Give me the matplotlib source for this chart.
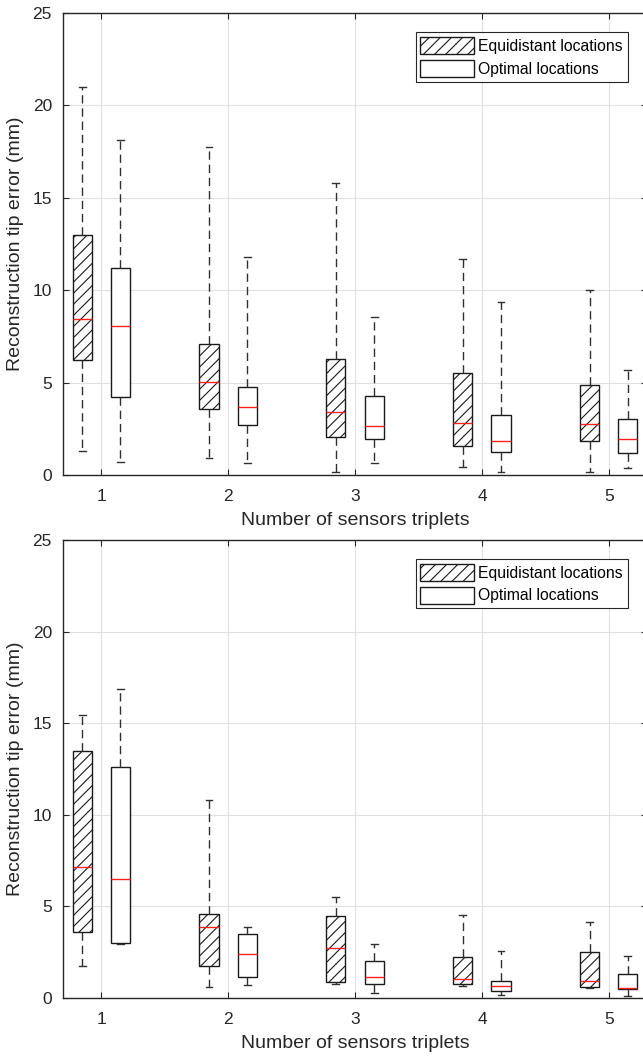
import matplotlib
matplotlib.use("Agg")
import matplotlib.pyplot as plt
from matplotlib.patches import Patch

plt.rcParams['font.family'] = ['Liberation Sans', 'DejaVu Sans']
plt.rcParams['hatch.linewidth'] = 0.8

groups = [1, 2, 3, 4, 5]
legend_labels = ["Equidistant locations", "Optimal locations"]
xlabel = "Number of sensors triplets"
ylabel = "Reconstruction tip error (mm)"

# ---- Top panel ----
top_equi_whislo = [1.29, 0.94, 0.18, 0.42, 0.17]
top_equi_q1     = [6.23, 3.58, 2.08, 1.57, 1.83]
top_equi_med    = [8.43, 5.05, 3.43, 2.84, 2.77]
top_equi_q3     = [13.0, 7.09, 6.27, 5.51, 4.88]
top_equi_whishi = [21.0, 17.77, 15.82, 11.68, 10.02]

top_opt_whislo = [0.69, 0.67, 0.64, 0.15, 0.38]
top_opt_q1     = [4.24, 2.73, 1.97, 1.25, 1.18]
top_opt_med    = [8.07, 3.70, 2.67, 1.85, 1.95]
top_opt_q3     = [11.19, 4.75, 4.30, 3.27, 3.04]
top_opt_whishi = [18.13, 11.82, 8.57, 9.38, 5.69]

# ---- Bottom panel ----
bot_equi_whislo = [1.77, 0.58, 0.75, 0.65, 0.56]
bot_equi_q1     = [3.58, 1.77, 0.88, 0.76, 0.58]
bot_equi_med    = [7.13, 3.86, 2.74, 1.01, 0.93]
bot_equi_q3     = [13.47, 4.57, 4.48, 2.22, 2.52]
bot_equi_whishi = [15.43, 10.82, 5.50, 4.55, 4.14]

bot_opt_whislo = [2.93, 0.69, 0.28, 0.19, 0.13]
bot_opt_q1     = [2.99, 1.16, 0.75, 0.37, 0.50]
bot_opt_med    = [6.47, 2.41, 1.16, 0.63, 0.56]
bot_opt_q3     = [12.63, 3.49, 2.03, 0.93, 1.32]
bot_opt_whishi = [16.87, 3.86, 2.93, 2.59, 2.28]


def make_stats(lo, q1, med, q3, hi):
    return [dict(whislo=a, q1=b, med=c, q3=d, whishi=e, fliers=[])
            for a, b, c, d, e in zip(lo, q1, med, q3, hi)]


DARK = '#262626'
W = 0.15
OFF = 0.15


def draw(ax, equi, opt):
    common = dict(widths=W, showfliers=False, patch_artist=True,
                  capwidths=0.055,
                  whiskerprops=dict(color='#303030', linestyle=(0, (6, 3.5)), linewidth=1.0),
                  capprops=dict(color='#303030', linewidth=1.0),
                  medianprops=dict(color='#ff2020', linewidth=1.0))
    ax.bxp(equi, positions=[g - OFF for g in groups],
           boxprops=dict(facecolor='white', edgecolor='#1a1a1a', linewidth=1.0, hatch='///'),
           **common)
    ax.bxp(opt, positions=[g + OFF for g in groups],
           boxprops=dict(facecolor='white', edgecolor='#1a1a1a', linewidth=1.0),
           **common)
    ax.set_xlim(0.7, 5.3)
    ax.set_ylim(0, 25)
    ax.set_xticks(groups)
    ax.set_xticklabels([str(g) for g in groups])
    ax.set_yticks([0, 5, 10, 15, 20, 25])
    ax.grid(True, color='#e0e0e0', linewidth=0.8)
    ax.set_axisbelow(True)
    ax.tick_params(direction='in', length=4, top=True, right=True,
                   colors=DARK, labelsize=12.5)
    ax.tick_params(axis='x', pad=10)
    ax.tick_params(axis='y', pad=8)
    for s in ax.spines.values():
        s.set_color(DARK)
        s.set_linewidth(1.0)
    ax.set_xlabel(xlabel, fontsize=14, color=DARK, labelpad=6)
    ax.set_ylabel(ylabel, fontsize=14, color=DARK, labelpad=6)
    handles = [Patch(facecolor='white', edgecolor='#1a1a1a', hatch='///', linewidth=1.0),
               Patch(facecolor='white', edgecolor='#1a1a1a', linewidth=1.0)]
    leg = ax.legend(handles, legend_labels, loc='upper right',
                    bbox_to_anchor=(0.967, 0.958), fontsize=11.3,
                    handlelength=3.4, handleheight=1.3, handletextpad=0.3,
                    borderpad=0.3, labelspacing=0.35, fancybox=False,
                    framealpha=1, edgecolor=DARK, borderaxespad=0)
    leg.get_frame().set_linewidth(0.8)


fig = plt.figure(figsize=(6.43, 10.57), dpi=100)
ax1 = fig.add_axes([63 / 643, 1 - 475 / 1057, 584 / 643, 462 / 1057])
ax2 = fig.add_axes([63 / 643, 1 - 998 / 1057, 584 / 643, 458 / 1057])

draw(ax1, make_stats(top_equi_whislo, top_equi_q1, top_equi_med, top_equi_q3, top_equi_whishi),
     make_stats(top_opt_whislo, top_opt_q1, top_opt_med, top_opt_q3, top_opt_whishi))
draw(ax2, make_stats(bot_equi_whislo, bot_equi_q1, bot_equi_med, bot_equi_q3, bot_equi_whishi),
     make_stats(bot_opt_whislo, bot_opt_q1, bot_opt_med, bot_opt_q3, bot_opt_whishi))

fig.savefig('out.png', dpi=100)
